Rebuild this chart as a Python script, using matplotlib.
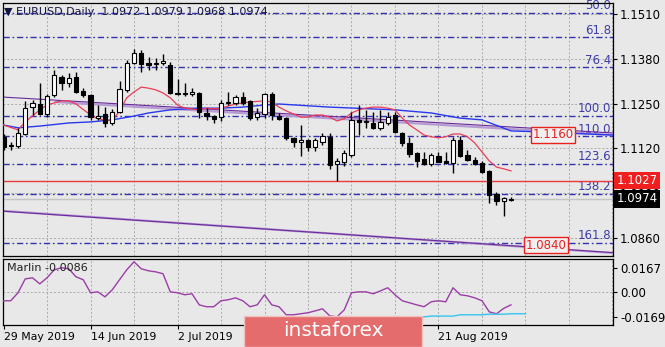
import matplotlib
matplotlib.use("Agg")
import matplotlib.pyplot as plt
import matplotlib.transforms as mtransforms
from matplotlib.patches import Rectangle

plt.rcParams.update({'font.size': 8, 'font.family': 'DejaVu Sans'})

# EURUSD daily candles, bar 0 = 29 May 2019
opens = [1.1154, 1.1127, 1.1127, 1.1162, 1.1240, 1.1249, 1.1220, 1.1275, 1.1327, 1.1310,
         1.1327, 1.1287, 1.1275, 1.1208, 1.1220, 1.1194, 1.1226, 1.1290, 1.1368, 1.1397,
         1.1368, 1.1365, 1.1368, 1.1362, 1.1281, 1.1278, 1.1278, 1.1281, 1.1223, 1.1214,
         1.1211, 1.1252, 1.1252, 1.1269, 1.1258, 1.1211, 1.1220, 1.1278, 1.1214, 1.1208,
         1.1150, 1.1139, 1.1145, 1.1124, 1.1139, 1.1154, 1.1075, 1.1081, 1.1101, 1.1203,
         1.1198, 1.1194, 1.1180, 1.1194, 1.1217, 1.1165, 1.1136, 1.1107, 1.1090, 1.1075,
         1.1098, 1.1084, 1.1078, 1.1145, 1.1101, 1.1087, 1.1078, 1.1055, 1.0988, 1.0968,
         1.0972]
highs = [1.1162, 1.1139, 1.1179, 1.1258, 1.1261, 1.1310, 1.1278, 1.1348, 1.1333, 1.1339,
         1.1342, 1.1295, 1.1278, 1.1246, 1.1240, 1.1235, 1.1316, 1.1377, 1.1409, 1.1406,
         1.1385, 1.1382, 1.1394, 1.1371, 1.1322, 1.1310, 1.1295, 1.1284, 1.1237, 1.1217,
         1.1261, 1.1284, 1.1275, 1.1284, 1.1261, 1.1237, 1.1281, 1.1284, 1.1223, 1.1211,
         1.1153, 1.1188, 1.1148, 1.1151, 1.1165, 1.1165, 1.1093, 1.1116, 1.1226, 1.1246,
         1.1232, 1.1226, 1.1232, 1.1226, 1.1226, 1.1168, 1.1153, 1.1110, 1.1110, 1.1107,
         1.1110, 1.1110, 1.1153, 1.1156, 1.1116, 1.1095, 1.1084, 1.1058, 1.0994, 1.0980,
         1.0979]
lows = [1.1116, 1.1116, 1.1121, 1.1159, 1.1217, 1.1217, 1.1211, 1.1269, 1.1290, 1.1298,
        1.1281, 1.1269, 1.1203, 1.1203, 1.1182, 1.1188, 1.1223, 1.1284, 1.1365, 1.1342,
        1.1348, 1.1348, 1.1362, 1.1278, 1.1275, 1.1272, 1.1272, 1.1208, 1.1203, 1.1194,
        1.1200, 1.1246, 1.1246, 1.1246, 1.1203, 1.1203, 1.1208, 1.1203, 1.1203, 1.1145,
        1.1124, 1.1098, 1.1113, 1.1113, 1.1130, 1.1060, 1.1027, 1.1069, 1.1095, 1.1159,
        1.1180, 1.1177, 1.1174, 1.1188, 1.1165, 1.1127, 1.1095, 1.1066, 1.1072, 1.1069,
        1.1080, 1.1075, 1.1049, 1.1095, 1.1084, 1.1072, 1.1049, 1.0962, 1.0957, 1.0924,
        1.0968]
closes = [1.1124, 1.1129, 1.1165, 1.1237, 1.1252, 1.1220, 1.1272, 1.1333, 1.1310, 1.1324,
          1.1284, 1.1275, 1.1211, 1.1214, 1.1194, 1.1226, 1.1293, 1.1368, 1.1397, 1.1365,
          1.1362, 1.1367, 1.1374, 1.1281, 1.1278, 1.1281, 1.1284, 1.1226, 1.1214, 1.1205,
          1.1252, 1.1255, 1.1269, 1.1252, 1.1208, 1.1223, 1.1278, 1.1217, 1.1205, 1.1150,
          1.1139, 1.1145, 1.1124, 1.1145, 1.1156, 1.1072, 1.1084, 1.1107, 1.1203, 1.1198,
          1.1201, 1.1180, 1.1197, 1.1211, 1.1168, 1.1136, 1.1104, 1.1084, 1.1075, 1.1101,
          1.1081, 1.1078, 1.1145, 1.1098, 1.1087, 1.1075, 1.1052, 1.0986, 1.0968, 1.0977,
          1.0974]

# fast moving average (red)
red_ma_bars = [0, 2, 3, 5, 6, 8, 9, 10, 12, 13, 15, 16, 17, 18, 19, 20, 21, 22, 23, 24,
               25, 27, 28, 29, 30, 32, 34, 36, 37, 38, 39, 40, 41, 42, 43, 44, 45, 46, 47,
               48, 49, 50, 51, 52, 53, 54, 55, 56, 57, 58, 59, 60, 61, 62, 63, 64, 65, 66,
               67, 68, 69, 70]
red_ma = [1.1188, 1.1174, 1.1197, 1.1232, 1.1246, 1.1258, 1.1258, 1.1249, 1.1217, 1.1206,
          1.1200, 1.1229, 1.1267, 1.1284, 1.1298, 1.1295, 1.1290, 1.1281, 1.1267, 1.1246,
          1.1237, 1.1232, 1.1237, 1.1235, 1.1237, 1.1249, 1.1255, 1.1258, 1.1255, 1.1240,
          1.1229, 1.1220, 1.1211, 1.1211, 1.1217, 1.1217, 1.1211, 1.1200, 1.1206, 1.1223,
          1.1232, 1.1237, 1.1240, 1.1240, 1.1237, 1.1232, 1.1208, 1.1188, 1.1174, 1.1159,
          1.1154, 1.1151, 1.1154, 1.1162, 1.1162, 1.1154, 1.1136, 1.1110, 1.1084, 1.1066,
          1.1061, 1.1055]

# slow moving average (blue)
blue_ma_bars = [0, 2, 5, 9, 12, 15, 18, 20, 23, 27, 30, 33, 36, 38, 45, 54, 59, 63, 66,
                70, 74, 84]
blue_ma = [1.1188, 1.1180, 1.1185, 1.1194, 1.1197, 1.1203, 1.1214, 1.1223, 1.1232, 1.1237,
           1.1237, 1.1240, 1.1246, 1.1249, 1.1240, 1.1232, 1.1223, 1.1208, 1.1203, 1.1171,
           1.1168, 1.1159]

# channel lines (start bar, start price, end bar, end price)
upper_line = (0, 1.1269, 84, 1.1165)
upper_line2 = (7, 1.1255, 84, 1.1159)
lower_line = (0, 1.0939, 84, 1.0817)

# fibonacci grid
fib_high = 1.1810
fib_low = 1.1215
fib_levels = [50.0, 61.8, 76.4, 100.0, 110.0, 123.6, 138.2, 161.8]

support = 1.1027
last_price = 1.0974
targets = [(75.8, 1.1160), (74.8, 1.0840)]

price_ticks = [1.1510, 1.1380, 1.1250, 1.1120, 1.0990, 1.0860]

# Marlin oscillator
marlin = [-0.0058, -0.0058, -0.0003, 0.0092, 0.0099, 0.0058, 0.0099, 0.0154, 0.0168, 0.0161,
          0.0106, 0.0086, -0.0003, 0.0003, -0.0031, 0.0017, 0.0086, 0.0154, 0.0209, 0.0161,
          0.0147, 0.0140, 0.0127, 0.0003, -0.0003, -0.0017, -0.0010, -0.0086, -0.0099, -0.0099,
          -0.0058, -0.0051, -0.0038, -0.0058, -0.0099, -0.0086, -0.0017, -0.0086, -0.0099, -0.0154,
          -0.0154, -0.0147, -0.0140, -0.0127, -0.0113, -0.0161, -0.0168, -0.0120, -0.0003, 0.0003,
          0.0003, -0.0010, 0.0010, 0.0031, -0.0017, -0.0058, -0.0072, -0.0086, -0.0099, -0.0065,
          -0.0058, -0.0065, 0.0031, -0.0017, -0.0024, -0.0038, -0.0058, -0.0134, -0.0147, -0.0110,
          -0.0086]
signal_bars = [55, 58, 59, 62, 63, 66, 67, 69, 70, 72]
signal = [-0.0168, -0.0168, -0.0163, -0.0163, -0.0154, -0.0154, -0.0150, -0.0150, -0.0147, -0.0147]
osc_ticks = [0.0167, 0.0, -0.0169]
osc_labels = ["0.0167", "0.00", "-0.0169"]

# date ticks every 12 bars; the middle two sit under the watermark
date_bars = [0, 12, 24, 36, 48, 60]
date_labels = ["29 May 2019", "14 Jun 2019", "2 Jul 2019", "", "", "21 Aug 2019"]

bg = '#e8e8e8'
fib_color = '#3232b4'
W, H = 665, 347

fig = plt.figure(figsize=(W / 100, H / 100), dpi=100, facecolor=bg)


def px_box(x0, y0, x1, y1):
    return [x0 / W, 1 - y1 / H, (x1 - x0) / W, (y1 - y0) / H]


ax = fig.add_axes(px_box(3, 3, 613, 256), facecolor=bg)
ax2 = fig.add_axes(px_box(3, 259, 613, 325), facecolor=bg)

xmin, xmax = -0.07, 84.07
n = len(closes)
bars = list(range(n))

# grid
for a in (ax, ax2):
    for b in range(6, 85, 6):
        a.axvline(b, color='#aaaaaa', lw=0.7, ls=(0, (2, 2)), zorder=0)
for p in price_ticks:
    ax.axhline(p, color='#aaaaaa', lw=0.7, ls=(0, (2, 2)), zorder=0)
ax2.axhline(0, color='#aaaaaa', lw=0.7, ls=(0, (2, 2)), zorder=0)

# fibonacci levels
rng = fib_high - fib_low
for lev in fib_levels:
    p = fib_high - rng * lev / 100.0
    ax.axhline(p, color=fib_color, lw=1.0, ls=(0, (4.5, 2, 1.2, 2)), zorder=1)
    ax.text(83.8, p + 0.0002, "%.1f" % lev, color='#3c3ca8', fontsize=8.5,
            ha='right', va='bottom', zorder=2)

# horizontal levels
ax.axhline(support, color='#e83c3c', lw=1.0, zorder=2)
ax.axhline(last_price, color='#c4c4c4', lw=1.0, zorder=1)

# channel lines
ax.plot([lower_line[0], lower_line[2]], [lower_line[1], lower_line[3]],
        color='#b69ad4', lw=1.6, zorder=2, solid_capstyle='butt')
ax.plot([lower_line[0], lower_line[2]], [lower_line[1] - 0.0001, lower_line[3] + 0.0001],
        color='#6a2a9a', lw=0.8, zorder=2)
ax.plot([upper_line2[0], upper_line2[2]], [upper_line2[1], upper_line2[3]],
        color='#b69ad4', lw=1.6, zorder=2, solid_capstyle='butt')
ax.plot([upper_line[0], upper_line[2]], [upper_line[1], upper_line[3]],
        color='#6a2a9a', lw=0.8, zorder=2)

# moving averages
ax.plot(blue_ma_bars, blue_ma, color='#2838ee', lw=1.0, zorder=3)
ax.plot(red_ma_bars, red_ma, color='#ec3c5a', lw=0.9, zorder=3)

# candles
for i in bars:
    o, h, l, c = opens[i], highs[i], lows[i], closes[i]
    ax.vlines(i, l, h, color='black', lw=1.0, zorder=4)
    col = 'white' if c >= o else 'black'
    ax.bar(i, abs(c - o), bottom=min(o, c), width=0.6, color=col,
           edgecolor='black', lw=0.8, zorder=5)

# target labels
for b, p in targets:
    ax.text(b, p, "%.4f" % p, color='#e82020', fontsize=8.5, ha='center', va='center',
            zorder=6, bbox=dict(boxstyle='square,pad=0.12', facecolor='#f0f0f0',
                                edgecolor='#e82020', lw=1.0))

ax.set_xlim(xmin, xmax)
ax.set_ylim(1.08082, 1.15419)
ax.set_xticks([])
ax.yaxis.tick_right()
ax.set_yticks(price_ticks)
ax.set_yticklabels(["%.4f" % p for p in price_ticks])
ax.tick_params(axis='y', length=3, width=0.8, pad=2, labelsize=8.5, colors='black')

# price boxes on the right axis
tr = mtransforms.blended_transform_factory(ax.transAxes, ax.transData)
ax.text(1.006, support, "%.4f" % support, transform=tr, color='white', fontsize=8.5,
        va='center', ha='left', clip_on=False, zorder=10,
        bbox=dict(boxstyle='square,pad=0.2', facecolor='#f01e1e', edgecolor='none'))
ax.text(1.006, last_price, "%.4f" % last_price, transform=tr, color='white', fontsize=8.5,
        va='center', ha='left', clip_on=False, zorder=10,
        bbox=dict(boxstyle='square,pad=0.2', facecolor='black', edgecolor='none'))

# oscillator panel
ax2.plot(bars, marlin, color='#9a3ea6', lw=1.0, zorder=3)
ax2.plot(signal_bars, signal, color='#36c4f0', lw=1.0, zorder=3)
ax2.set_xlim(xmin, xmax)
ax2.set_ylim(-0.0224, 0.0228)
ax2.yaxis.tick_right()
ax2.set_yticks(osc_ticks)
ax2.set_yticklabels(osc_labels)
ax2.set_xticks(date_bars)
ax2.set_xticklabels(date_labels, ha='left')
ax2.tick_params(axis='y', length=3, width=0.8, pad=2, labelsize=8.5)
ax2.tick_params(axis='x', length=3, width=0.8, pad=2, labelsize=7.8)
ax2.text(0.5, 0.0166, "Marlin %.4f" % marlin[-1], fontsize=8, color='#202020',
         ha='left', va='center')

for a in (ax, ax2):
    for s in a.spines.values():
        s.set_color('black')
        s.set_linewidth(0.9)

# chart header
fig.text(4 / W, 1 - 12 / H, "\u25bc EURUSD,Daily  %.4f %.4f %.4f %.4f"
         % (opens[-1], highs[-1], lows[-1], closes[-1]),
         fontsize=8, color='#141440', ha='left', va='center')

# watermark
fig.patches.append(Rectangle((244 / W, 0), (422 - 244) / W, (347 - 316) / H,
                             transform=fig.transFigure, facecolor='#e46c6c',
                             edgecolor='#f3c0c0', lw=1.0, zorder=5))
fig.text(333 / W, 1 - 331 / H, "instaforex", color='white', fontsize=14.5,
         family='Liberation Sans Narrow', ha='center', va='center', zorder=6)

fig.savefig("out.png", dpi=100, facecolor=bg)
